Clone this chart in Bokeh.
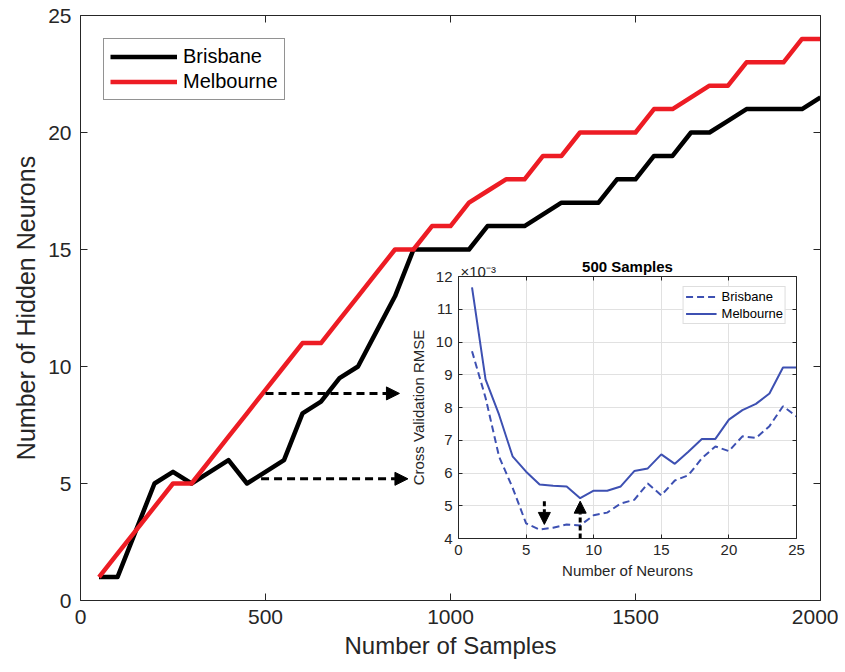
from bokeh.plotting import figure
from bokeh.models import Range1d, LinearAxis, Legend, LegendItem, Arrow, NormalHead, FixedTicker
from bokeh.core.properties import value
from bokeh.layouts import column
from bokeh.embed import file_html
from bokeh.resources import INLINE

FONT = "Liberation Sans"
AX = "#262626"
RED = "#ed1c24"
BLUE = "#3d50b2"

# ---------------- main chart data ----------------
samples = [50, 100, 150, 200, 250, 300, 350, 400, 450, 500,
           550, 600, 650, 700, 750, 800, 850, 900, 950, 1000,
           1050, 1100, 1150, 1200, 1250, 1300, 1350, 1400, 1450, 1500,
           1550, 1600, 1650, 1700, 1750, 1800, 1850, 1900, 1950, 2000]
brisbane_neurons = [1, 1, 3, 5, 5.5, 5, 5.5, 6, 5, 5.5,
                    6, 8, 8.5, 9.5, 10, 11.5, 13, 15, 15, 15,
                    15, 16, 16, 16, 16.5, 17, 17, 17, 18, 18,
                    19, 19, 20, 20, 20.5, 21, 21, 21, 21, 21.5]
melbourne_neurons = [1, 2, 3, 4, 5, 5, 6, 7, 8, 9,
                     10, 11, 11, 12, 13, 14, 15, 15, 16, 16,
                     17, 17.5, 18, 18, 19, 19, 20, 20, 20, 20,
                     21, 21, 21.5, 22, 22, 23, 23, 23, 24, 24]
main_x_ticks = [0, 500, 1000, 1500, 2000]
main_y_ticks = [0, 5, 10, 15, 20, 25]

# ---------------- inset data (x 10^-3) ----------------
neurons = list(range(1, 26))
brisbane_rmse = [9.72, 8.3, 6.5, 5.55, 4.46, 4.27, 4.33, 4.43, 4.40, 4.71,
                 4.79, 5.07, 5.18, 5.68, 5.32, 5.77, 5.93, 6.45, 6.81, 6.67,
                 7.12, 7.07, 7.43, 8.04, 7.73]
melbourne_rmse = [11.67, 8.86, 7.78, 6.51, 6.04, 5.65, 5.61, 5.59, 5.23, 5.46,
                  5.46, 5.59, 6.06, 6.14, 6.57, 6.28, 6.65, 7.04, 7.04, 7.63,
                  7.92, 8.11, 8.43, 9.22, 9.22]
inset_x_ticks = [0, 5, 10, 15, 20, 25]
inset_y_ticks = [4, 5, 6, 7, 8, 9, 10, 11, 12]
inset_exponent = "×10⁻³"

# arrow annotations (data units)
main_arrows = [(500, 8.85, 862, 8.85), (488, 5.2, 885, 5.2)]
inset_arrows = [(6.35, 5.14, 6.35, 4.43), (9.0, 4.0, 9.0, 5.14)]
exponent_pos = (1027, 14.05)   # main-data position of the inset's exponent note


def style_axis(ax, ticks, tick_size, label_size, tick_in, show=True):
    ax.ticker = FixedTicker(ticks=ticks)
    ax.axis_line_color = AX
    ax.axis_line_width = 1
    ax.major_tick_line_color = AX
    ax.major_tick_in = tick_in
    ax.major_tick_out = 0
    ax.minor_tick_line_color = None
    ax.major_label_text_color = AX
    ax.major_label_text_font = FONT
    ax.axis_label_text_font = FONT
    ax.axis_label_text_font_style = "normal"
    ax.axis_label_text_color = AX
    ax.axis_label_text_font_size = label_size
    if show:
        ax.major_label_text_font_size = tick_size
    else:
        ax.major_label_text_font_size = "0px"
        ax.major_label_standoff = 0


# ---------------- main figure ----------------
p = figure(width=838, height=668, x_range=Range1d(0, 2000), y_range=Range1d(0, 25),
           output_backend="svg", toolbar_location=None,
           min_border_left=80, min_border_right=18, min_border_top=15, min_border_bottom=68)
p.grid.visible = False
p.outline_line_color = None
p.xaxis.axis_label = "Number of Samples"
p.yaxis.axis_label = "Number of Hidden Neurons"
style_axis(p.xaxis[0], main_x_ticks, "21px", "24px", 7)
style_axis(p.yaxis[0], main_y_ticks, "21px", "25px", 7)
p.xaxis.major_label_standoff = 9
p.yaxis.major_label_standoff = 9
top_ax = LinearAxis()
style_axis(top_ax, main_x_ticks, "21px", "24px", 7, show=False)
p.add_layout(top_ax, "above")
right_ax = LinearAxis()
style_axis(right_ax, main_y_ticks, "21px", "24px", 7, show=False)
p.add_layout(right_ax, "right")

rb = p.line(samples, brisbane_neurons, line_color="black", line_width=4.5, line_join="round")
rm = p.line(samples, melbourne_neurons, line_color=RED, line_width=4.5, line_join="round")

leg = Legend(items=[LegendItem(label="Brisbane", renderers=[rb]),
                    LegendItem(label="Melbourne", renderers=[rm])],
             location="top_left", margin=23, padding=6, spacing=2,
             glyph_width=67, glyph_height=21, label_standoff=6,
             label_text_font=FONT, label_text_font_size="20px", label_text_color="black",
             border_line_color=AX, border_line_width=1, background_fill_alpha=1)
p.add_layout(leg)

for (x0, y0, x1, y1) in main_arrows:
    p.add_layout(Arrow(x_start=x0, y_start=y0, x_end=x1, y_end=y1,
                       line_color="black", line_width=3, line_dash="8 5",
                       end=NormalHead(size=13, fill_color="black", line_color="black")))

# exponent note of the inset's y axis
p.text(x=[exponent_pos[0]], y=[exponent_pos[1]], text=[inset_exponent],
       text_font=value(FONT), text_font_size="15px", text_color=AX,
       text_baseline="alphabetic", text_align="left")

# ---------------- inset figure ----------------
q = figure(width=436, height=337, x_range=Range1d(0, 25), y_range=Range1d(4, 12),
           output_backend="svg", toolbar_location=None, title="500 Samples",
           min_border_left=46, min_border_right=15, min_border_top=22, min_border_bottom=52,
           margin=(-415, 0, 0, 378))
q.title.align = "center"
q.title.text_font = FONT
q.title.text_font_size = "15px"
q.title.text_font_style = "bold"
q.title.text_color = "black"
q.title.standoff = 4
q.outline_line_color = None
q.background_fill_color = "white"
q.border_fill_alpha = 0
q.xaxis.axis_label = "Number of Neurons"
q.yaxis.axis_label = "Cross Validation RMSE"
style_axis(q.xaxis[0], inset_x_ticks, "15px", "15px", 4)
style_axis(q.yaxis[0], inset_y_ticks, "15px", "15px", 4)
q.xaxis.major_label_standoff = 6
q.yaxis.major_label_standoff = 6
q.xaxis.axis_label_standoff = 4
q.yaxis.axis_label_standoff = 6
q_top = LinearAxis()
style_axis(q_top, inset_x_ticks, "15px", "15px", 4, show=False)
q.add_layout(q_top, "above")
q_right = LinearAxis()
style_axis(q_right, inset_y_ticks, "15px", "15px", 4, show=False)
q.add_layout(q_right, "right")
q.grid.grid_line_color = "#e1e1e1"
q.xgrid.ticker = FixedTicker(ticks=inset_x_ticks)
q.ygrid.ticker = FixedTicker(ticks=inset_y_ticks)

qb = q.line(neurons, brisbane_rmse, line_color=BLUE, line_width=2, line_dash="7 4")
qm = q.line(neurons, melbourne_rmse, line_color=BLUE, line_width=2)

qleg = Legend(items=[LegendItem(label="Brisbane", renderers=[qb]),
                     LegendItem(label="Melbourne", renderers=[qm])],
              location="top_right", margin=10, padding=2, spacing=2,
              glyph_width=31, glyph_height=15, label_standoff=5,
              label_text_font=FONT, label_text_font_size="13px", label_text_color="black",
              border_line_color="#bdbdbd", border_line_width=1)
q.add_layout(qleg)

for (x0, y0, x1, y1) in inset_arrows:
    q.add_layout(Arrow(x_start=x0, y_start=y0, x_end=x1, y_end=y1,
                       line_color="black", line_width=3, line_dash="5 3",
                       end=NormalHead(size=12, fill_color="black", line_color="black")))

layout = column(p, q)
open("out.html", "w").write(file_html(layout, INLINE))
